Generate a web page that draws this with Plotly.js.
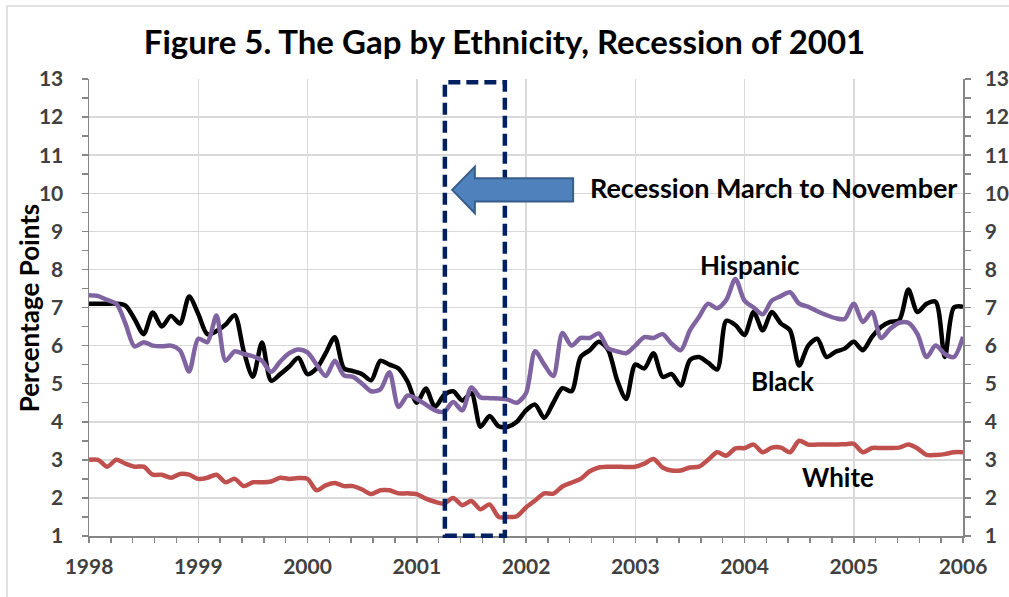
<!DOCTYPE html>
<html>
<head>
<meta charset="utf-8">
<script src="https://cdn.plot.ly/plotly-3.0.1.min.js"></script>
<style>html,body{margin:0;padding:0;background:#fff;}#chart{width:1009px;height:597px;}</style>
</head>
<body>
<div id="chart"></div>
<script>
// Monthly series, Jan 1998 .. Jan 2006 (percentage-point gaps)
const startYear = 1998;
const black = [7.1,7.1,7.1,7.1,7.05,6.7,6.3,6.87,6.5,6.78,6.58,7.29,
  6.83,6.3,6.38,6.55,6.8,5.85,5.18,6.08,5.08,5.25,5.45,5.68,
  5.25,5.4,5.8,6.22,5.4,5.33,5.25,5.09,5.6,5.5,5.4,5.05,
  4.5,4.87,4.39,4.7,4.8,4.56,4.75,3.87,4.15,3.88,3.87,4.0,
  4.3,4.45,4.1,4.5,4.88,4.8,5.7,5.88,6.1,5.9,5.1,4.6,
  5.5,5.4,5.8,5.18,5.25,4.95,5.62,5.7,5.55,5.37,6.65,6.54,
  6.28,6.88,6.4,6.88,6.58,6.4,5.48,6.0,6.18,5.7,5.84,5.92,
  6.1,5.88,6.23,6.49,6.62,6.67,7.47,6.88,7.1,7.15,5.7,7.0,
  7.02];
const hispanic = [7.32,7.3,7.2,7.1,6.58,5.98,6.09,6.0,5.98,6.0,5.87,5.32,
  6.18,6.09,6.79,5.6,5.85,5.78,5.72,5.6,5.31,5.58,5.8,5.9,
  5.82,5.5,5.2,5.6,5.22,5.18,5.0,4.8,4.85,5.3,4.39,4.69,
  4.6,4.45,4.3,4.26,4.52,4.3,4.9,4.64,4.62,4.61,4.58,4.5,
  4.75,5.85,5.5,5.2,6.33,6.0,6.2,6.2,6.32,5.93,5.85,5.8,
  6.0,6.22,6.2,6.3,6.05,5.88,6.4,6.75,7.1,6.98,7.2,7.75,
  7.18,7.0,6.82,7.18,7.3,7.4,7.1,7.02,6.9,6.8,6.72,6.7,
  7.1,6.62,6.88,6.2,6.44,6.6,6.6,6.3,5.7,6.0,5.78,5.7,
  6.23];
const white = [3.0,3.0,2.82,3.0,2.9,2.82,2.82,2.61,2.61,2.53,2.63,2.61,
  2.5,2.53,2.61,2.41,2.5,2.31,2.41,2.41,2.43,2.53,2.5,2.52,
  2.5,2.2,2.33,2.39,2.31,2.31,2.22,2.1,2.2,2.2,2.12,2.12,
  2.1,1.98,1.9,1.85,2.0,1.81,1.92,1.7,1.83,1.5,1.5,1.52,
  1.75,1.93,2.12,2.11,2.3,2.4,2.5,2.7,2.8,2.82,2.82,2.81,
  2.82,2.9,3.02,2.8,2.72,2.72,2.8,2.82,3.0,3.2,3.11,3.3,
  3.31,3.4,3.2,3.32,3.32,3.2,3.5,3.4,3.4,3.4,3.4,3.41,
  3.42,3.2,3.31,3.31,3.31,3.32,3.4,3.3,3.13,3.13,3.15,3.2,
  3.2];
const yearTicks = [1998,1999,2000,2001,2002,2003,2004,2005,2006];
const yTicks = [1,2,3,4,5,6,7,8,9,10,11,12,13];
const seriesNames = ["Black","Hispanic","White"];
const seriesColors = ["#000000","#8064A2","#C0504D"];
const titleText = "Figure 5. The Gap by Ethnicity, Recession of 2001";
const yTitle = "Percentage Points";
const recessionText = "Recession March to November";

const months = black.map((_, i) => startYear + i / 12);
const FONT = "Lato, 'Open Sans', sans-serif";
const AX = "#868686", GRID = "#d9d9d9", LBL = "#404040";
const bold = v => "<b>" + v + "</b>";

const data = [black, hispanic, white].map((s, k) => ({
  type: "scatter", mode: "lines", name: seriesNames[k],
  x: months, y: s,
  line: {color: seriesColors[k], width: 4.5, shape: "spline", smoothing: 0.8},
  hoverinfo: "skip", showlegend: false
}));
// invisible trace so that the right-hand axis is drawn
data.push({type: "scatter", mode: "lines", x: months, y: white, yaxis: "y2",
  line: {color: "rgba(0,0,0,0)", width: 0}, hoverinfo: "skip", showlegend: false});

const yCommon = {
  range: [1, 13], tickvals: yTicks, ticktext: yTicks.map(bold),
  showline: true, linecolor: AX, linewidth: 1.5,
  ticks: "outside", ticklen: 6, tickcolor: AX, tickwidth: 1.5, zeroline: false,
  minor: {dtick: 0.5, tick0: 1, ticks: "outside", ticklen: 6, tickcolor: AX, tickwidth: 1.5, showgrid: false},
  tickfont: {family: FONT, size: 21, color: LBL}, fixedrange: true
};

// paper-coordinate helpers for the decoration shapes
const L = 89, R = 45.7, T = 79, B = 60.5, W = 1009, H = 597;
const px = X => (X - L) / (W - L - R);
const py = Y => (H - B - Y) / (H - T - B);

const arrowPath = [
  [452.3, 190], [475, 166.7], [475, 178.3], [573.3, 178.3],
  [573.3, 201.7], [475, 201.7], [475, 213.3]
].map((p, i) => (i ? "L" : "M") + px(p[0]).toFixed(4) + "," + py(p[1]).toFixed(4)).join(" ") + " Z";

const annFont = {family: FONT, size: 26, color: "#000"};

const layout = {
  width: W, height: H, autosize: false,
  margin: {l: L, r: R, t: T, b: B, pad: 0},
  paper_bgcolor: "#fff", plot_bgcolor: "#fff",
  font: {family: FONT, color: "#000"},
  title: {text: bold(titleText), font: {family: FONT, size: 33, color: "#000"},
          x: 0.5, xref: "container", xanchor: "center", y: 1 - 42 / H, yref: "container", yanchor: "middle"},
  xaxis: {
    range: [1998, 2006], tickvals: yearTicks, ticktext: yearTicks.map(bold),
    showgrid: true, gridcolor: GRID, gridwidth: 1.5, showline: true, linecolor: AX, linewidth: 1.5,
    ticks: "outside", ticklen: 5, tickcolor: AX, tickwidth: 1.5, zeroline: false,
    minor: {dtick: 0.2, tick0: 1998, ticks: "outside", ticklen: 5, tickcolor: AX, tickwidth: 1.5, showgrid: false},
    tickfont: {family: FONT, size: 21, color: LBL}, ticklabelstandoff: 6, fixedrange: true
  },
  yaxis: Object.assign({}, yCommon, {
    showgrid: true, gridcolor: GRID, gridwidth: 1.5, ticklabelstandoff: 14
  }),
  yaxis2: Object.assign({}, yCommon, {overlaying: "y", side: "right", showgrid: false, ticklabelstandoff: 10}),
  shapes: [
    // outer chart frame (left and top edges)
    {type: "path", xref: "paper", yref: "paper", layer: "below",
     path: "M" + px(7) + "," + py(620) + " L" + px(7) + "," + py(6) + " L" + px(1020) + "," + py(6),
     line: {color: "#d9d9d9", width: 1.5}},
    // recession box
    {type: "rect", xref: "paper", yref: "paper", layer: "above",
     x0: px(445), x1: px(505), y0: py(536.3), y1: py(82.3),
     line: {color: "#002060", width: 4.5, dash: "12px,6px"}, fillcolor: "rgba(0,0,0,0)"},
    // arrow
    {type: "path", xref: "paper", yref: "paper", layer: "above", path: arrowPath,
     fillcolor: "#4F81BD", line: {color: "#385D8A", width: 2}}
  ],
  annotations: [
    {text: bold(yTitle), xref: "paper", yref: "paper", x: px(29), y: py(308.5), textangle: -90,
     xanchor: "center", yanchor: "middle", showarrow: false, font: annFont},
    {text: bold(recessionText), xref: "paper", yref: "paper", x: px(588), y: py(188),
     xanchor: "left", yanchor: "middle", showarrow: false, font: {family: FONT, size: 27, color: "#000"}},
    {text: bold("Hispanic"), xref: "paper", yref: "paper", x: px(750), y: py(265),
     xanchor: "center", yanchor: "middle", showarrow: false, font: annFont},
    {text: bold("Black"), xref: "paper", yref: "paper", x: px(783), y: py(381),
     xanchor: "center", yanchor: "middle", showarrow: false, font: annFont},
    {text: bold("White"), xref: "paper", yref: "paper", x: px(838), y: py(477),
     xanchor: "center", yanchor: "middle", showarrow: false, font: annFont}
  ]
};

Plotly.newPlot("chart", data, layout, {displayModeBar: false, staticPlot: true});
</script>
</body>
</html>
